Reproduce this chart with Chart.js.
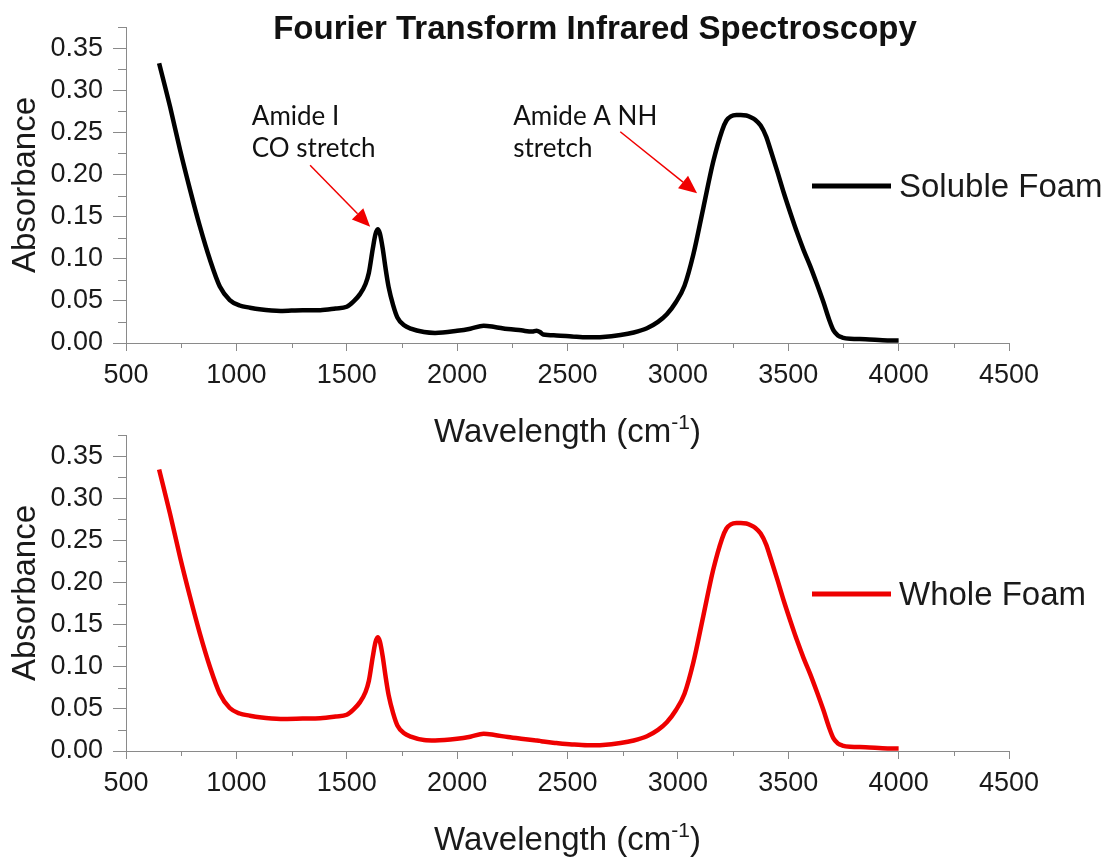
<!DOCTYPE html>
<html>
<head>
<meta charset="utf-8">
<script src="https://cdn.jsdelivr.net/npm/chart.js@4.4.1/dist/chart.umd.min.js"></script>
<style>
  body { margin: 0; background: #fff; }
  #wrap { position: relative; width: 1109px; height: 858px; }
  canvas { position: absolute; left: 0; }
  #topChart { top: 0; }
  #bottomChart { top: 400px; }
</style>
</head>
<body>
<div id="wrap">
  <canvas id="topChart" width="1109" height="460" style="width:1109px;height:460px"></canvas>
  <canvas id="bottomChart" width="1109" height="458" style="width:1109px;height:458px"></canvas>
</div>
<script>
// wavenumber (cm-1) and absorbance readings
const wavenumbers = [650, 700, 745, 790, 835, 880, 925, 970, 1015, 1060, 1105, 1200, 1300, 1380, 1450, 1500, 1530, 1560, 1585, 1600, 1618, 1630, 1640, 1650, 1663, 1675, 1690, 1710, 1730, 1760, 1790, 1850, 1900, 2000, 2060, 2120, 2170, 2230, 2290, 2340, 2360, 2375, 2390, 2450, 2520, 2590, 2660, 2740, 2800, 2860, 2910, 2950, 2990, 3030, 3070, 3115, 3160, 3200, 3220, 3240, 3265, 3285, 3310, 3330, 3350, 3375, 3400, 3420, 3450, 3480, 3510, 3540, 3570, 3600, 3630, 3660, 3685, 3705, 3725, 3745, 3780, 3850, 3950, 4000];

const solubleFoam = [0.332, 0.280, 0.229, 0.182, 0.138, 0.099, 0.067, 0.051, 0.0445, 0.042, 0.040, 0.038, 0.039, 0.039, 0.041, 0.043, 0.049, 0.058, 0.070, 0.083, 0.112, 0.129, 0.135, 0.130, 0.112, 0.090, 0.066, 0.045, 0.030, 0.021, 0.017, 0.013, 0.012, 0.0145, 0.017, 0.0205, 0.019, 0.0165, 0.015, 0.0135, 0.0145, 0.013, 0.010, 0.009, 0.0078, 0.0068, 0.0072, 0.0095, 0.0125, 0.0175, 0.025, 0.034, 0.048, 0.068, 0.105, 0.160, 0.215, 0.252, 0.264, 0.269, 0.2705, 0.2705, 0.270, 0.268, 0.265, 0.258, 0.245, 0.229, 0.204, 0.178, 0.154, 0.131, 0.110, 0.091, 0.070, 0.048, 0.028, 0.015, 0.009, 0.0065, 0.005, 0.0045, 0.003, 0.003];

const wholeFoam = [0.334, 0.281, 0.230, 0.183, 0.139, 0.100, 0.068, 0.051, 0.0445, 0.042, 0.040, 0.038, 0.0385, 0.039, 0.041, 0.043, 0.049, 0.058, 0.070, 0.083, 0.112, 0.129, 0.135, 0.130, 0.112, 0.090, 0.066, 0.045, 0.030, 0.021, 0.017, 0.013, 0.0125, 0.0145, 0.017, 0.0205, 0.019, 0.0165, 0.0145, 0.013, 0.0125, 0.012, 0.0112, 0.0095, 0.0078, 0.0068, 0.0072, 0.0095, 0.0125, 0.0175, 0.025, 0.034, 0.048, 0.068, 0.105, 0.160, 0.215, 0.252, 0.264, 0.269, 0.2705, 0.2705, 0.270, 0.268, 0.265, 0.258, 0.245, 0.229, 0.204, 0.178, 0.154, 0.131, 0.110, 0.091, 0.070, 0.048, 0.028, 0.015, 0.009, 0.0065, 0.005, 0.0045, 0.003, 0.003];

const xMinorTicks = [750, 1250, 1750, 2250, 2750, 3250, 3750, 4250];
const yMinorTicks = [0.025, 0.075, 0.125, 0.175, 0.225, 0.275, 0.325, 0.375];

const chartTitle = 'Fourier Transform Infrared Spectroscopy';

// peak labels and arrows, in data units
const peakNotes = [
  { lines: ['Amide I', 'CO stretch'], x: 1070, y: 0.269, from: [1334, 0.211], to: [1606, 0.138] },
  { lines: ['Amide A NH', 'stretch'], x: 2254, y: 0.269, from: [2739, 0.2507], to: [3087, 0.1776] }
];

const FONT = 'Liberation Sans, Arial, sans-serif';
const AXIS_GREY = '#8a8a8a';
const TEXT = '#1a1a1a';

const minorTicks = {
  id: 'minorTicks',
  afterDraw(chart) {
    const { ctx, scales: { x, y } } = chart;
    ctx.save();
    ctx.strokeStyle = AXIS_GREY;
    ctx.lineWidth = 1;
    ctx.beginPath();
    xMinorTicks.forEach(v => {
      const px = Math.round(x.getPixelForValue(v)) + 0.5;
      ctx.moveTo(px, x.top);
      ctx.lineTo(px, x.top + 5);
    });
    yMinorTicks.forEach(v => {
      const py = Math.round(y.getPixelForValue(v)) + 0.5;
      ctx.moveTo(y.right, py);
      ctx.lineTo(y.right - 8, py);
    });
    ctx.stroke();
    ctx.restore();
  }
};

// x title with superscript -1
const xTitle = {
  id: 'xTitle',
  afterDraw(chart) {
    const { ctx, chartArea } = chart;
    const base = chartArea.bottom + 99;
    const main = 'Wavelength (cm';
    const sup = '-1';
    ctx.save();
    ctx.fillStyle = TEXT;
    ctx.textBaseline = 'alphabetic';
    ctx.font = '33px ' + FONT;
    const w1 = ctx.measureText(main).width;
    const w3 = ctx.measureText(')').width;
    ctx.font = '21px ' + FONT;
    const w2 = ctx.measureText(sup).width;
    const total = w1 + w2 + w3;
    let left = (chartArea.left + chartArea.right) / 2 - total / 2;
    ctx.textAlign = 'left';
    ctx.font = '33px ' + FONT;
    ctx.fillText(main, left, base);
    ctx.font = '21px ' + FONT;
    ctx.fillText(sup, left + w1, base - 13);
    ctx.font = '33px ' + FONT;
    ctx.fillText(')', left + w1 + w2, base);
    ctx.restore();
  }
};

const seriesKey = {
  id: 'seriesKey',
  afterDraw(chart) {
    const { ctx, chartArea } = chart;
    const ds = chart.data.datasets[0];
    const ly = chartArea.top + 159;
    ctx.save();
    ctx.strokeStyle = ds.borderColor;
    ctx.lineWidth = 5;
    ctx.beginPath();
    ctx.moveTo(812, ly);
    ctx.lineTo(891, ly);
    ctx.stroke();
    ctx.fillStyle = TEXT;
    ctx.font = '33px ' + FONT;
    ctx.textAlign = 'left';
    ctx.textBaseline = 'alphabetic';
    ctx.fillText(ds.label, 899, ly + 11);
    ctx.restore();
  }
};

const headline = {
  id: 'headline',
  afterDraw(chart) {
    const { ctx } = chart;
    ctx.save();
    ctx.fillStyle = '#111';
    ctx.font = 'bold 33px ' + FONT;
    ctx.textAlign = 'center';
    ctx.textBaseline = 'alphabetic';
    ctx.fillText(chartTitle, 595, 39);
    ctx.restore();
  }
};

const peakLabels = {
  id: 'peakLabels',
  afterDraw(chart) {
    const { ctx, scales: { x, y } } = chart;
    ctx.save();
    peakNotes.forEach(n => {
      ctx.fillStyle = '#111';
      ctx.font = '26px Lato, Carlito, sans-serif';
      ctx.textAlign = 'left';
      ctx.textBaseline = 'alphabetic';
      const tx = x.getPixelForValue(n.x);
      const ty = y.getPixelForValue(n.y);
      n.lines.forEach((t, i) => ctx.fillText(t, tx, ty + 9 + i * 32));

      const x0 = x.getPixelForValue(n.from[0]), y0 = y.getPixelForValue(n.from[1]);
      const x1 = x.getPixelForValue(n.to[0]), y1 = y.getPixelForValue(n.to[1]);
      const ang = Math.atan2(y1 - y0, x1 - x0);
      const headLen = 18, headHalf = 8;
      const bx = x1 - headLen * Math.cos(ang), by = y1 - headLen * Math.sin(ang);
      ctx.strokeStyle = '#f00000';
      ctx.fillStyle = '#f00000';
      ctx.lineWidth = 1.5;
      ctx.beginPath();
      ctx.moveTo(x0, y0);
      ctx.lineTo(bx, by);
      ctx.stroke();
      ctx.beginPath();
      ctx.moveTo(x1, y1);
      ctx.lineTo(bx + headHalf * Math.sin(ang), by - headHalf * Math.cos(ang));
      ctx.lineTo(bx - headHalf * Math.sin(ang), by + headHalf * Math.cos(ang));
      ctx.closePath();
      ctx.fill();
    });
    ctx.restore();
  }
};

function makeSpectrum(id, label, values, color, padTop, xHeight, extra) {
  return new Chart(document.getElementById(id), {
    type: 'line',
    data: {
      datasets: [{
        label: label,
        data: wavenumbers.map((w, i) => ({ x: w, y: values[i] })),
        borderColor: color,
        borderWidth: 4.5,
        pointRadius: 0,
        cubicInterpolationMode: 'monotone',
        fill: false
      }]
    },
    options: {
      responsive: false,
      animation: false,
      layout: { padding: { top: padTop, right: 100, bottom: 0, left: 0 }, autoPadding: false },
      plugins: { legend: { display: false }, tooltip: { enabled: false } },
      scales: {
        x: {
          type: 'linear',
          min: 500,
          max: 4500,
          afterFit: s => { s.height = xHeight; },
          border: { color: AXIS_GREY, width: 1 },
          grid: { drawOnChartArea: false, tickLength: 8, color: AXIS_GREY, tickColor: AXIS_GREY },
          ticks: {
            stepSize: 500,
            includeBounds: false,
            maxRotation: 0,
            padding: 8,
            color: TEXT,
            font: { family: FONT, size: 27 },
            callback: v => String(v)
          }
        },
        y: {
          min: 0,
          max: 0.375,
          afterFit: s => { s.width = 126; },
          border: { color: AXIS_GREY, width: 1 },
          grid: { drawOnChartArea: false, tickLength: 13, color: AXIS_GREY, tickColor: AXIS_GREY },
          ticks: {
            stepSize: 0.05,
            includeBounds: false,
            padding: 10,
            color: TEXT,
            font: { family: FONT, size: 27 },
            callback: v => v.toFixed(2)
          },
          title: {
            display: true,
            text: 'Absorbance',
            color: TEXT,
            font: { family: FONT, size: 33 },
            padding: { top: 6, bottom: 0 }
          }
        }
      }
    },
    plugins: [minorTicks, xTitle, seriesKey].concat(extra)
  });
}

makeSpectrum('topChart', 'Soluble Foam', solubleFoam, '#000000', 27, 117, [headline, peakLabels]);
makeSpectrum('bottomChart', 'Whole Foam', wholeFoam, '#ee0000', 35, 107, []);
</script>
</body>
</html>
